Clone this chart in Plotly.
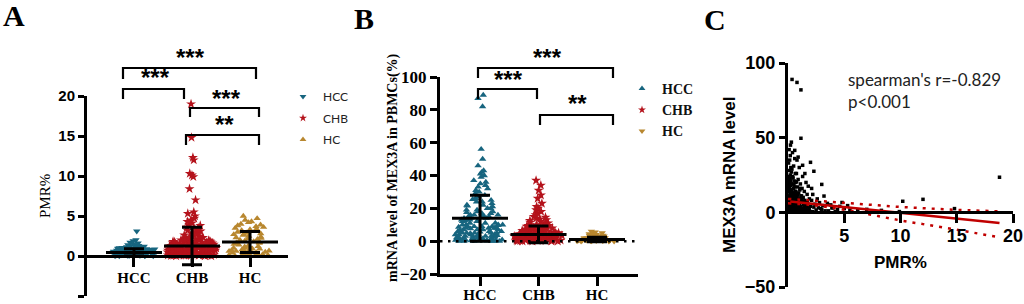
import plotly.graph_objects as go

W, H = 1024, 304


def fx(p):
    return p / W


def fy(p):
    return 1 - p / H


SERIF = "Liberation Serif, Times New Roman, serif"
SANS = "Liberation Sans, Arial, sans-serif"
CAL = "Lato, Carlito, sans-serif"

categories = ["HCC", "CHB", "HC"]
cat_pos = [0, 1, 2]
group_colors = ["#17657f", "#b4121b", "#b8872f"]

# ---------------- Panel A : PMR% ----------------
pmr_hcc = [3.1, 2.0, 1.9, 1.7, 1.6, 1.5, 1.4, 1.3, 1.3, 1.2, 1.2, 1.1, 1.1, 1.0, 1.0, 1.0,
           0.9, 0.9, 0.9, 0.9, 0.8, 0.8, 0.8, 0.8, 0.7, 0.7, 0.7, 0.7, 0.7, 0.6, 0.6, 0.6,
           0.6, 0.6, 0.5, 0.5, 0.5, 0.5, 0.5, 0.5, 0.4, 0.4, 0.4, 0.4, 0.4, 0.4, 0.3, 0.3,
           0.3, 0.3, 0.3, 0.3, 0.2, 0.2, 0.2, 0.2, 0.2, 0.2, 0.1, 0.1, 0.1, 0.1, 0.1, 0.05,
           0.05, 0.05, 0.0, 0.0, 0.0, 0.0, 1.15, 1.05, 0.95, 0.85, 0.75, 0.65, 0.55, 0.45,
           0.35, 0.25, 0.15, 1.12, 1.02, 0.92, 0.82, 0.72, 0.62, 0.52, 0.42, 0.32, 0.22,
           0.12, 0.02, 1.25, 0.97, 0.87, 0.77, 0.67, 0.57, 0.47, 0.37, 0.27, 0.17, 0.07]
pmr_chb = [19.0, 14.8, 12.3, 12.0, 10.3, 10.1, 9.9, 8.4, 7.0, 5.5, 5.3, 5.0, 4.7, 4.5, 4.3,
           4.1, 3.9, 3.8, 3.6, 3.5, 3.4, 3.3, 3.2, 3.1, 3.0, 2.9, 2.8, 2.7, 2.6, 2.5, 2.5,
           2.4, 2.3, 2.2, 2.2, 2.1, 2.0, 2.0, 1.9, 1.9, 1.8, 1.8, 1.7, 1.7, 1.6, 1.6, 1.5,
           1.5, 1.5, 1.4, 1.4, 1.4, 1.3, 1.3, 1.3, 1.2, 1.2, 1.2, 1.1, 1.1, 1.1, 1.0, 1.0,
           1.0, 1.0, 0.9, 0.9, 0.9, 0.9, 0.8, 0.8, 0.8, 0.8, 0.8, 0.7, 0.7, 0.7, 0.7, 0.7,
           0.6, 0.6, 0.6, 0.6, 0.6, 0.5, 0.5, 0.5, 0.5, 0.5, 0.5, 0.4, 0.4, 0.4, 0.4, 0.4,
           0.4, 0.3, 0.3, 0.3, 0.3, 0.3, 0.3, 0.2, 0.2, 0.2, 0.2, 0.2, 0.2, 0.1, 0.1, 0.1,
           0.1, 0.1, 0.1, 0.05, 0.05, 0.05, 0.0, 0.0, 0.0, 2.35, 2.15, 1.95, 1.75, 1.55,
           1.35, 1.15, 0.95, 0.75, 0.55, 0.35, 0.15, 2.05, 1.85, 1.65, 1.45, 1.25, 1.05,
           0.85, 0.65, 0.45, 0.25, 0.08, 1.72, 1.52, 1.32, 1.12, 0.92, 0.72, 0.52, 0.32,
           0.12, 0.02]
pmr_hc = [5.0, 4.7, 4.5, 4.3, 4.2, 4.0, 3.9, 3.7, 3.6, 3.5, 3.3, 3.2, 3.1, 3.0, 2.9, 2.8,
          2.7, 2.6, 2.5, 2.4, 2.3, 2.2, 2.1, 2.0, 1.9, 1.8, 1.7, 1.6, 1.5, 1.4, 1.3, 1.2,
          1.1, 1.0, 1.0, 0.9, 0.9, 0.8, 0.8, 0.7, 0.7, 0.6, 0.6, 0.5, 0.5, 0.4, 0.4, 0.3,
          0.3, 0.2, 0.2, 0.1, 0.1, 0.0, 0.0, 3.8, 3.4, 2.75, 2.25, 1.65, 1.15, 0.65, 0.25]
pmr_mean = [0.45, 1.25, 1.75]
pmr_sd = [0.45, 2.35, 1.3]
pmr_ticks = [-5, 0, 5, 10, 15, 20]

# ---------------- Panel B : MEX3A mRNA ----------------
mex_hcc = [89, 87, 82, 56, 50, 46, 43, 42, 41, 40, 39, 37, 36, 35, 34, 33, 32, 31, 30, 29,
           28, 27, 26, 25, 24, 24, 23, 22, 22, 21, 20, 20, 19, 19, 18, 18, 17, 17, 16, 16,
           16, 15, 15, 15, 14, 14, 14, 13, 13, 13, 12, 12, 12, 11, 11, 11, 10, 10, 10, 10,
           9, 9, 9, 9, 8, 8, 8, 8, 7, 7, 7, 7, 6, 6, 6, 6, 5, 5, 5, 5, 5, 4, 4, 4, 4, 4,
           3, 3, 3, 3, 3, 2.5, 2.5, 2, 2, 2, 2, 1.5, 1.5, 1.5, 1, 1, 1, 1, 0.8, 0.6, 0.5,
           0.5, 0.4, 0.3, 0.3, 0.2, 0.2, 0.1, 0.1, 0.1, 0, 0, 0, 3.6, 2.8, 2.2, 1.8, 1.2,
           0.7, 4.6, 5.6, 6.6, 7.6, 8.6, 9.6, 12.5, 15.5, 17.5, 21.5, 25.5]
mex_chb = [37, 34, 31, 28, 26, 23, 21, 20, 19, 18, 17, 16, 15, 14.5, 14, 13.5, 13, 12.5, 12,
           11.5, 11, 10.5, 10, 10, 9.5, 9.5, 9, 9, 8.5, 8.5, 8, 8, 8, 7.5, 7.5, 7.5, 7, 7, 7,
           6.5, 6.5, 6.5, 6, 6, 6, 6, 5.5, 5.5, 5.5, 5.5, 5, 5, 5, 5, 5, 4.5, 4.5, 4.5, 4.5,
           4.5, 4, 4, 4, 4, 4, 4, 3.5, 3.5, 3.5, 3.5, 3.5, 3.5, 3, 3, 3, 3, 3, 3, 3, 2.5,
           2.5, 2.5, 2.5, 2.5, 2.5, 2.5, 2, 2, 2, 2, 2, 2, 2, 1.5, 1.5, 1.5, 1.5, 1.5, 1.5,
           1.5, 1, 1, 1, 1, 1, 1, 1, 1, 0.5, 0.5, 0.5, 0.5, 0.5, 0.5, 0.5, 0.2, 0.2, 0.2,
           0.2, 0.2, 0, 0, 0, 0, 0]
mex_hc = [6, 5.5, 5, 5, 4.5, 4, 4, 3.5, 3.5, 3, 3, 3, 2.5, 2.5, 2.5, 2, 2, 2, 2, 1.8, 1.6,
          1.5, 1.5, 1.4, 1.2, 1.2, 1, 1, 1, 0.9, 0.8, 0.8, 0.7, 0.6, 0.6, 0.5, 0.5, 0.4, 0.4,
          0.3, 0.3, 0.2, 0.2, 0.1, 0.1, 0, 0, 0]
mex_mean = [14.0, 4.1, 1.0]
mex_sd = [14.0, 5.1, 1.4]
mex_ticks = [-20, 0, 20, 40, 60, 80, 100]

# ---------------- Panel C : correlation ----------------
corr_pmr = [
    0.10, 0.20, 0.15, 0.05, 0.25, 0.10, 0.30, 0.20, 0.05, 0.15,
    0.25, 0.10, 0.30, 0.20, 0.05, 0.15, 0.25, 0.10, 0.30, 0.20,
    0.05, 0.15, 0.25, 0.10, 0.30, 0.20, 0.05, 0.15, 0.25, 0.10,
    0.30, 0.20, 0.40, 0.60, 0.50, 0.35, 0.65, 0.45, 0.55, 0.40,
    0.60, 0.50, 0.35, 0.65, 0.45, 0.55, 0.40, 0.60, 0.50, 0.35,
    0.65, 0.45, 0.55, 0.40, 0.60, 0.50, 0.35, 0.65, 0.45, 0.55,
    0.70, 0.38, 0.62, 0.48, 0.58, 0.42, 0.80, 1.00, 0.75, 0.90,
    1.10, 0.85, 1.05, 0.95, 0.75, 1.15, 0.80, 1.00, 0.90, 1.10,
    0.85, 1.05, 0.95, 0.80, 1.15, 0.90, 1.00, 0.70, 1.20, 0.88,
    1.08, 1.30, 1.60, 1.25, 1.45, 1.70, 1.35, 1.90, 1.50, 1.30,
    1.75, 1.40, 1.60, 1.85, 1.30, 1.55, 1.95, 1.20, 1.65, 1.45,
    2.20, 2.60, 2.10, 2.80, 2.40, 3.10, 2.30, 2.90, 2.50, 3.30,
    2.20, 3.50, 2.70, 3.00, 2.00, 3.80, 4.00, 4.40, 3.60, 4.60,
    5.00, 5.50, 4.20, 3.90, 0.36, 0.80, 1.15, 1.15, 0.30, 0.60,
    0.90, 1.30, 1.50, 2.00, 2.30, 1.80, 2.10, 3.00, 3.20, 4.80,
    5.30, 10.2, 12.0, 14.8, 18.8, 8.30, 7.00, 6.20, 9.90, 0.22,
    0.12, 0.28, 0.18, 0.08, 0.33, 0.22, 0.14, 0.27, 0.07, 0.19,
    0.52, 0.68, 0.44, 0.58, 0.73, 0.47, 0.63, 0.53, 0.69, 0.41,
    0.78, 0.93, 1.12, 0.83, 1.02, 0.97, 1.18, 0.87, 1.07, 0.76,
    1.22, 1.38, 1.52, 1.68, 1.82, 1.28, 1.42, 1.58, 1.72, 1.88,
]
corr_mex = [
    42, 38, 35, 33, 30, 28, 27, 25, 24, 22,
    21, 20, 19, 18, 17, 16, 15, 14, 13, 12,
    11, 10, 9, 8, 7, 6, 5, 4, 3, 2,
    1, 0.5, 40, 36, 31, 29, 26, 23, 21, 19,
    17, 16, 15, 14, 13, 12, 11, 10, 9, 8,
    7, 6, 5, 4, 3, 2, 1.5, 1, 0.5, 0.3,
    12.5, 9.5, 7.5, 5.5, 3.5, 2.5, 35, 30, 26, 22,
    19, 17, 15, 13, 12, 11, 10, 9, 8, 7,
    6, 5, 4, 3, 2, 1, 0.5, 14, 9.5, 6.5,
    3.5, 24, 20, 16, 14, 12, 10, 9, 8, 7,
    6, 5, 4, 3, 2, 1, 0.5, 11, 6.5, 3.5,
    12, 9, 8, 6.5, 5.5, 4.5, 3.5, 2.5, 1.5, 1,
    0.5, 6, 3, 2, 4, 5, 3, 2, 1, 4,
    2.5, 1.5, 0.5, 3, 89, 87, 82, 49.6, 47, 41.5,
    37, 31.5, 26, 33.5, 27.5, 17.5, 16, 18.7, 10.9, 6.6,
    4.5, 7.4, 8.7, 2.5, 23.5, 1.3, 2.0, 1.5, 0.5, 45,
    9.5, 7.5, 12.5, 14.5, 5.5, 3.5, 1.5, 10.5, 18.5, 23,
    1.2, 2.8, 4.2, 6.2, 8.2, 10.8, 13.2, 18, 20, 24,
    1.5, 2.5, 3.8, 4.8, 5.8, 7.5, 8.5, 11.5, 16, 20.5,
    1.8, 2.8, 3.8, 4.8, 1.2, 7.5, 5.5, 2.2, 6.8, 2.5,
]
fit_x = [0.2, 18.8]
fit_y = [7.25, -7.1]
ci_x = [0, 2, 4, 6, 8, 10, 12, 14, 16, 18.8]
ci_upper = [9.0, 8.0, 6.9, 5.8, 4.7, 3.6, 2.8, 2.0, 1.4, 0.7]
ci_lower = [6.0, 5.0, 3.0, 0.5, -2.5, -5.4, -7.9, -10.4, -13.0, -16.7]
corr_ticks_x = [5, 10, 15, 20]
corr_ticks_y = [-50, 0, 50, 100]

fig = go.Figure()

# ---- strip plots (library jitter) ----
a_symbols = ["triangle-down", "star", "triangle-up"]
b_symbols = ["triangle-up", "star", "triangle-down"]
a_data = [pmr_hcc, pmr_chb, pmr_hc]
b_data = [mex_hcc, mex_chb, mex_hc]
a_sizes = [6.5, 7.5, 6.5]
b_sizes = [6.5, 7.5, 6.5]

for i in range(3):
    fig.add_trace(go.Box(
        x=[cat_pos[i]] * len(a_data[i]), y=a_data[i], xaxis="x", yaxis="y",
        boxpoints="all", jitter=0.95, pointpos=0, width=0.9,
        marker=dict(color=group_colors[i], symbol=a_symbols[i], size=a_sizes[i],
                    line=dict(width=0)),
        line=dict(width=0, color="rgba(0,0,0,0)"), fillcolor="rgba(0,0,0,0)",
        showlegend=False, name=categories[i]))
    fig.add_trace(go.Box(
        x=[cat_pos[i]] * len(b_data[i]), y=b_data[i], xaxis="x2", yaxis="y2",
        boxpoints="all", jitter=0.95, pointpos=0, width=0.9,
        marker=dict(color=group_colors[i], symbol=b_symbols[i], size=b_sizes[i],
                    line=dict(width=0)),
        line=dict(width=0, color="rgba(0,0,0,0)"), fillcolor="rgba(0,0,0,0)",
        showlegend=False, name=categories[i]))

# ---- mean +/- SD ----
for xa, ya, mean, sd in [("x", "y", pmr_mean, pmr_sd), ("x2", "y2", mex_mean, mex_sd)]:
    fig.add_trace(go.Scatter(
        x=cat_pos, y=mean, xaxis=xa, yaxis=ya, mode="markers", showlegend=False,
        marker=dict(symbol="line-ew", size=40, color="black",
                    line=dict(width=3, color="black")),
        error_y=dict(type="data", array=sd, visible=True, color="black",
                     thickness=3, width=10),
        cliponaxis=False))

# ---- legends (dummy traces) ----
for i in range(3):
    fig.add_trace(go.Scatter(
        x=[None], y=[None], mode="markers", name=categories[i], legend="legend",
        legendgroup="a" + categories[i],
        marker=dict(symbol=a_symbols[i], color=group_colors[i], size=6)))
for i in range(3):
    fig.add_trace(go.Scatter(
        x=[None], y=[None], mode="markers", name=categories[i], legend="legend2",
        legendgroup="b" + categories[i],
        marker=dict(symbol=b_symbols[i], color=group_colors[i], size=6)))

# ---- panel C ----
fig.add_trace(go.Scatter(
    x=corr_pmr, y=corr_mex, xaxis="x3", yaxis="y3", mode="markers", showlegend=False,
    marker=dict(color="black", size=3.5, symbol="square")))
fig.add_trace(go.Scatter(
    x=ci_x, y=ci_upper, xaxis="x3", yaxis="y3", mode="lines", showlegend=False,
    line=dict(color="#c00000", width=2.5, dash="3px,6px", shape="spline")))
fig.add_trace(go.Scatter(
    x=ci_x, y=ci_lower, xaxis="x3", yaxis="y3", mode="lines", showlegend=False,
    line=dict(color="#c00000", width=2.5, dash="3px,6px", shape="spline")))
fig.add_trace(go.Scatter(
    x=fit_x, y=fit_y, xaxis="x3", yaxis="y3", mode="lines", showlegend=False,
    line=dict(color="#c00000", width=2.5)))

axis_common = dict(showline=True, linewidth=3, linecolor="black", ticks="outside",
                   tickwidth=3, tickcolor="black", showgrid=False, zeroline=False,
                   automargin=False)

fig.update_layout(
    width=W, height=H, margin=dict(l=0, r=0, t=0, b=0, pad=0, autoexpand=False),
    paper_bgcolor="white", plot_bgcolor="white", boxmode="overlay",
    xaxis=dict(domain=[fx(87), fx(288)], range=[-0.81, 2.655], anchor="free",
               position=fy(256), tickvals=cat_pos, ticktext=categories, ticklen=9,
               ticklabelstandoff=-2,
               tickfont=dict(family=SERIF, size=15, color="black", weight="bold"),
               **axis_common),
    yaxis=dict(domain=[fy(296), fy(96)], range=[-5, 20], anchor="x", tickvals=pmr_ticks,
               ticklen=6, tickfont=dict(family=SANS, size=15, color="black", weight="bold"),
               **axis_common),
    xaxis2=dict(domain=[fx(440), fx(638)], range=[-0.684, 2.701], anchor="y2",
                tickvals=cat_pos, ticktext=categories, ticklen=9, ticklabelstandoff=-4,
                tickfont=dict(family=SERIF, size=15, color="black", weight="bold"),
                **axis_common),
    yaxis2=dict(domain=[fy(274), fy(77)], range=[-20, 100], anchor="x2", tickvals=mex_ticks,
                ticklen=7, tickfont=dict(family=SERIF, size=17, color="black", weight="bold"),
                **axis_common),
    xaxis3=dict(domain=[fx(788), fx(1013)], range=[0, 20], anchor="free", position=fy(212),
                tickvals=corr_ticks_x, ticklen=9, ticklabelstandoff=-3,
                tickfont=dict(family=SANS, size=18, color="black", weight="bold"),
                **axis_common),
    yaxis3=dict(domain=[fy(287), fy(63)], range=[-50, 100], anchor="x3",
                tickvals=corr_ticks_y, ticklen=6,
                tickfont=dict(family=SANS, size=18, color="black", weight="bold"),
                **axis_common),
    legend=dict(x=fx(283), y=fy(82), xanchor="left", yanchor="top",
                font=dict(family=CAL, size=12, color="#222"), bgcolor="rgba(0,0,0,0)",
                traceorder="grouped", tracegroupgap=2.5),
    legend2=dict(x=fx(622), y=fy(73), xanchor="left", yanchor="top",
                 font=dict(family=SERIF, size=14, color="#111", weight="bold"),
                 bgcolor="rgba(0,0,0,0)", traceorder="grouped", tracegroupgap=0),
)

# ---- significance brackets ----
brackets = [
    (123, 256, 68, 79), (123, 184, 89, 99), (190, 259, 108, 117), (186, 259, 135, 145),
    (478, 613, 68, 78), (478, 537, 89, 99), (540, 613, 115, 125),
]
shapes = []
for x0, x1, yt, yl in brackets:
    shapes.append(dict(
        type="path", xref="paper", yref="paper",
        path=f"M {fx(x0)},{fy(yl)} L {fx(x0)},{fy(yt)} L {fx(x1)},{fy(yt)} L {fx(x1)},{fy(yl)}",
        line=dict(color="black", width=2.2)))
shapes.append(dict(type="line", xref="x2 domain", yref="y2", x0=0, x1=1, y0=0, y1=0,
                   line=dict(color="black", width=2.5, dash="2.5px,5.5px")))
fig.update_layout(shapes=shapes)

stars = [("***", 190, 55), ("***", 155, 75), ("***", 226, 95), ("**", 224, 121),
         ("***", 547, 55), ("***", 508, 76), ("**", 577, 101)]
ann = []
for t, x, y in stars:
    ann.append(dict(text=t, x=fx(x), y=fy(y + 3), xref="paper", yref="paper",
                    showarrow=False, xanchor="center", yanchor="middle",
                    font=dict(family=SANS, size=24, color="black", weight="bold")))

ann += [
    dict(text="A", x=fx(14), y=fy(16), font=dict(family=SERIF, size=30, color="black", weight="bold")),
    dict(text="B", x=fx(364), y=fy(18), font=dict(family=SERIF, size=30, color="black", weight="bold")),
    dict(text="C", x=fx(715), y=fy(19), font=dict(family=SERIF, size=30, color="black", weight="bold")),
    dict(text="PMR%", x=fx(45), y=fy(196), textangle=-90,
         font=dict(family=SERIF, size=15, color="black")),
    dict(text="mRNA level of MEX3A in PBMCs(%)", x=fx(393), y=fy(168), textangle=-90,
         font=dict(family=SERIF, size=14, color="black", weight="bold")),
    dict(text="MEX3A mRNA level", x=fx(729), y=fy(175), textangle=-90,
         font=dict(family=SANS, size=17, color="black", weight="bold")),
    dict(text="PMR%", x=fx(900), y=fy(262),
         font=dict(family=SANS, size=17, color="black", weight="bold")),
]
for a in ann[-7:]:
    a.update(xref="paper", yref="paper", showarrow=False, xanchor="center", yanchor="middle")

ann += [
    dict(text="spearman's r=-0.829", x=fx(846), y=fy(80), xref="paper", yref="paper",
         showarrow=False, xanchor="left", yanchor="middle",
         font=dict(family=CAL, size=17, color="#222")),
    dict(text="p<0.001", x=fx(846), y=fy(101), xref="paper", yref="paper",
         showarrow=False, xanchor="left", yanchor="middle",
         font=dict(family=CAL, size=17, color="#222")),
]
fig.update_layout(annotations=ann)

fig.write_html("out.html", config={"displayModeBar": False},
               post_script="document.body.style.margin='0px';")
